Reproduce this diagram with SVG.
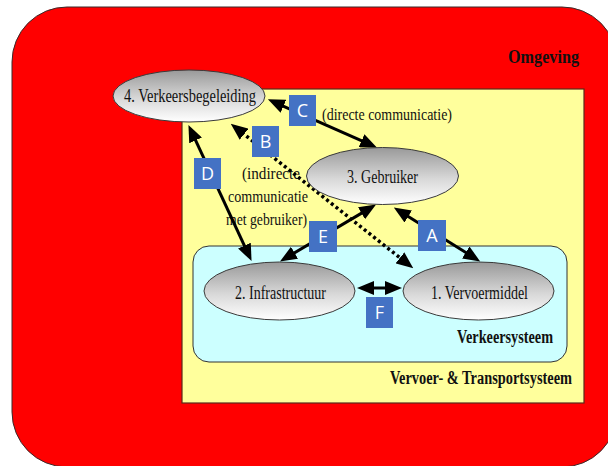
<svg xmlns="http://www.w3.org/2000/svg" width="608" height="466" viewBox="0 0 608 466">
<style>
.lbl{font-family:"Liberation Serif","Times New Roman",serif;fill:#111;}
.node{font-size:18px;text-anchor:middle;}
.cap{font-size:18.5px;font-weight:bold;text-anchor:end;}
.note{font-size:17.5px;}
.ell{fill:url(#eg);stroke:#3a3a3a;stroke-width:1;}
.con{fill:none;stroke:#000;stroke-width:3;marker-start:url(#ah);marker-end:url(#ah);}
.dot{fill:none;stroke:#000;stroke-width:3.5;stroke-dasharray:3 3;marker-start:url(#ah);marker-end:url(#ah);}
.tag rect{fill:#4472C4;}
.tag text{font-family:"Open Sans","Liberation Sans",sans-serif;font-size:18px;fill:#fff;text-anchor:middle;}
</style>
<defs>
<linearGradient id="eg" x1="0" y1="0" x2="0" y2="1">
<stop offset="0" stop-color="#999999"/>
<stop offset="0.55" stop-color="#d8d8d8"/>
<stop offset="1" stop-color="#ffffff"/>
</linearGradient>
<marker id="ah" markerUnits="userSpaceOnUse" markerWidth="17" markerHeight="14" viewBox="0 0 17 14" refX="9" refY="7" orient="auto-start-reverse">
<path d="M0,0 L17,7 L0,14 z" fill="#000"/>
</marker>
</defs>
<g id="omgeving">
<rect x="12" y="7" width="605" height="460" rx="55" fill="#ff0000" stroke="#3a2a2a" stroke-width="1"/>
<text class="lbl cap" x="579" y="63" textLength="71" lengthAdjust="spacingAndGlyphs">Omgeving</text>
</g>
<g id="transportsysteem">
<rect x="182" y="89" width="402" height="314" fill="#ffff9c" stroke="#5a2a1a" stroke-width="1.2"/>
<text class="lbl cap" x="572" y="384" textLength="182" lengthAdjust="spacingAndGlyphs">Vervoer- &amp; Transportsysteem</text>
</g>
<g id="verkeersysteem">
<rect x="193" y="246" width="374" height="116" rx="16" fill="#ccffff" stroke="#333" stroke-width="1"/>
<text class="lbl cap" x="553" y="343" textLength="96" lengthAdjust="spacingAndGlyphs">Verkeersysteem</text>
</g>
<g id="notes">
<text class="lbl note" x="322" y="120" textLength="130" lengthAdjust="spacingAndGlyphs">(directe communicatie)</text>
<text class="lbl note" x="242" y="179" textLength="58" lengthAdjust="spacingAndGlyphs">(indirecte</text>
<text class="lbl note" x="228" y="202" textLength="80" lengthAdjust="spacingAndGlyphs">communicatie</text>
<text class="lbl note" x="226" y="225" textLength="81" lengthAdjust="spacingAndGlyphs">met gebruiker)</text>
</g>
<g id="connectors">
<line class="con" x1="275.2" y1="102.6" x2="369.8" y2="144.4"/>
<line class="con" x1="191.8" y1="132.2" x2="248.2" y2="253.8"/>
<line class="dot" x1="237" y1="128.6" x2="407" y2="263.4"/>
<line class="con" x1="369.2" y1="208.6" x2="286.8" y2="257.4"/>
<line class="con" x1="400.6" y1="211.8" x2="473.4" y2="257.2"/>
<line class="con" x1="365" y1="288" x2="394" y2="288"/>
</g>
<g id="node4">
<ellipse class="ell" cx="189" cy="96" rx="76" ry="26"/>
<text class="lbl node" x="190" y="102" textLength="132" lengthAdjust="spacingAndGlyphs">4. Verkeersbegeleiding</text>
</g>
<g id="node3">
<ellipse class="ell" cx="382.5" cy="176" rx="76" ry="28.5"/>
<text class="lbl node" x="382.5" y="183" textLength="71" lengthAdjust="spacingAndGlyphs">3. Gebruiker</text>
</g>
<g id="node2">
<ellipse class="ell" cx="279.5" cy="291" rx="75.5" ry="29"/>
<text class="lbl node" x="280.5" y="299" textLength="91" lengthAdjust="spacingAndGlyphs">2. Infrastructuur</text>
</g>
<g id="node1">
<ellipse class="ell" cx="478.5" cy="291" rx="75.5" ry="29"/>
<text class="lbl node" x="479.5" y="299" textLength="97" lengthAdjust="spacingAndGlyphs">1. Vervoermiddel</text>
</g>
<g id="tagC" class="tag"><rect x="289" y="95" width="27" height="31"/><text x="302.5" y="117">C</text></g>
<g id="tagB" class="tag"><rect x="252" y="126" width="27" height="31"/><text x="265.5" y="148">B</text></g>
<g id="tagD" class="tag"><rect x="194" y="158" width="27" height="31"/><text x="207.5" y="180">D</text></g>
<g id="tagE" class="tag"><rect x="309" y="221" width="28" height="31"/><text x="323" y="243">E</text></g>
<g id="tagA" class="tag"><rect x="418" y="220" width="28" height="31"/><text x="432" y="242">A</text></g>
<g id="tagF" class="tag"><rect x="366" y="297" width="27" height="31"/><text x="379.5" y="319">F</text></g>
</svg>
